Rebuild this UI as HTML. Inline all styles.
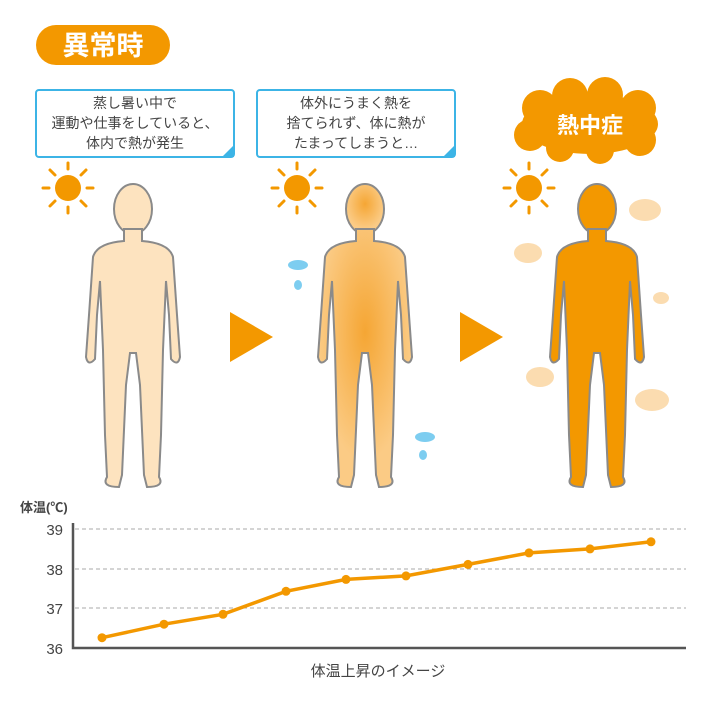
<!DOCTYPE html>
<html><head><meta charset="utf-8"><style>
body{margin:0;background:#fff;font-family:"Liberation Sans","Noto Sans CJK JP",sans-serif;}
svg text{font-family:"Liberation Sans","Noto Sans CJK JP",sans-serif;}
</style></head><body>
<svg width="711" height="700" xmlns="http://www.w3.org/2000/svg">
<defs>
<g id="body">
<ellipse cx="0" cy="24" rx="19" ry="25"/>
<path d="M-9,44 L-9,56 Q-36,58 -40,72 L-44,130 L-47,172 Q-45,182 -38,174 L-36,130 L-33,96 L-30,165 L-28,250 L-26,292 Q-32,302 -14,302 L-11,290 L-7,200 L-3,168 L3,168 L7,200 L11,290 L14,302 Q32,302 26,292 L28,250 L30,165 L33,96 L36,130 L38,174 Q45,182 47,172 L44,130 L40,72 Q36,58 9,56 L9,44 Z"/>
</g>
<g id="sun" fill="#f39800" stroke="#f39800" stroke-width="3" stroke-linecap="round">
<circle r="13" stroke="none"/>
<line x1="0" y1="-19" x2="0" y2="-25"/><line x1="0" y1="19" x2="0" y2="25"/>
<line x1="-19" y1="0" x2="-25" y2="0"/><line x1="19" y1="0" x2="25" y2="0"/>
<line x1="13" y1="13" x2="18" y2="18"/><line x1="-13" y1="13" x2="-18" y2="18"/>
<line x1="13" y1="-13" x2="18" y2="-18"/><line x1="-13" y1="-13" x2="-18" y2="-18"/>
</g>
<radialGradient id="rg" cx="0.5" cy="0.4" r="0.5"><stop offset="0" stop-color="#f5a634"/><stop offset="1" stop-color="#fbcb85"/></radialGradient>
</defs>
<rect x="36" y="25" width="134" height="40" rx="20" fill="#f39800"/>
<text x="103" y="55" font-size="27" fill="#fff" text-anchor="middle" font-weight="bold">異常時</text>
<rect x="36" y="90" width="198" height="67" rx="3" fill="#fff" stroke="#3cb4e6" stroke-width="2"/>
<path d="M222,157 L234,145 L234,157 Z" fill="#3cb4e6"/>
<text font-size="14" fill="#444" text-anchor="middle"><tspan x="135" y="108">蒸し暑い中で</tspan><tspan x="135" y="128">運動や仕事をしていると、</tspan><tspan x="135" y="148">体内で熱が発生</tspan></text>
<rect x="257" y="90" width="198" height="67" rx="3" fill="#fff" stroke="#3cb4e6" stroke-width="2"/>
<path d="M443,157 L455,145 L455,157 Z" fill="#3cb4e6"/>
<text font-size="14" fill="#444" text-anchor="middle"><tspan x="356" y="108">体外にうまく熱を</tspan><tspan x="356" y="128">捨てられず、体に熱が</tspan><tspan x="356" y="148">たまってしまうと…</tspan></text>
<g fill="#f39800">
<ellipse cx="590" cy="124" rx="68" ry="30"/>
<circle cx="540" cy="108" r="18"/><circle cx="570" cy="96" r="18"/><circle cx="605" cy="95" r="18"/><circle cx="638" cy="108" r="18"/>
<circle cx="530" cy="135" r="16"/><circle cx="560" cy="148" r="14"/><circle cx="600" cy="150" r="14"/><circle cx="640" cy="140" r="16"/>
</g>
<text x="590" y="133" font-size="22" fill="#fff" text-anchor="middle" font-weight="bold">熱中症</text>
<use href="#sun" x="68" y="188"/><use href="#sun" x="297" y="188"/><use href="#sun" x="529" y="188"/>
<use href="#body" x="133" y="185" fill="#fde3bf" stroke="#8a8a8a" stroke-width="2"/>
<use href="#body" x="365" y="185" fill="url(#rg)" stroke="#8a8a8a" stroke-width="2"/>
<use href="#body" x="597" y="185" fill="#f39800" stroke="#8a8a8a" stroke-width="2"/>
<path d="M230,312 L273,337 L230,362 Z" fill="#f39800"/>
<path d="M460,312 L503,337 L460,362 Z" fill="#f39800"/>
<g fill="#7dcdf0"><ellipse cx="298" cy="265" rx="10" ry="5"/><ellipse cx="298" cy="285" rx="4" ry="5"/><ellipse cx="425" cy="437" rx="10" ry="5"/><ellipse cx="423" cy="455" rx="4" ry="5"/></g>
<g fill="#fbdcb0"><ellipse cx="645" cy="210" rx="16" ry="11"/><ellipse cx="528" cy="253" rx="14" ry="10"/><ellipse cx="661" cy="298" rx="8" ry="6"/><ellipse cx="540" cy="377" rx="14" ry="10"/><ellipse cx="652" cy="400" rx="17" ry="11"/></g>
<text x="20" y="512" font-size="13" fill="#444" font-weight="bold">体温(℃)</text>
<g stroke="#aaa" stroke-dasharray="4,3" stroke-width="1"><line x1="75" y1="529" x2="686" y2="529"/><line x1="75" y1="569" x2="686" y2="569"/><line x1="75" y1="608" x2="686" y2="608"/></g>
<path d="M73,523 L73,648 L686,648" fill="none" stroke="#555" stroke-width="2.5"/>
<g font-size="15" fill="#444" text-anchor="end"><text x="63" y="535">39</text><text x="63" y="575">38</text><text x="63" y="614">37</text><text x="63" y="654">36</text></g>
<polyline fill="none" stroke="#f39800" stroke-width="3.5" points="102,637.7 164,624.2 223,614.3 286,591.3 346,579.4 406,575.9 468,564.4 529,552.9 590,548.9 651,541.8"/>
<g fill="#f39800"><circle cx="102" cy="637.7" r="4.5"/><circle cx="164" cy="624.2" r="4.5"/><circle cx="223" cy="614.3" r="4.5"/><circle cx="286" cy="591.3" r="4.5"/><circle cx="346" cy="579.4" r="4.5"/><circle cx="406" cy="575.9" r="4.5"/><circle cx="468" cy="564.4" r="4.5"/><circle cx="529" cy="552.9" r="4.5"/><circle cx="590" cy="548.9" r="4.5"/><circle cx="651" cy="541.8" r="4.5"/></g>
<text x="378" y="676" font-size="15" fill="#444" text-anchor="middle">体温上昇のイメージ</text>
</svg>
</body></html>
